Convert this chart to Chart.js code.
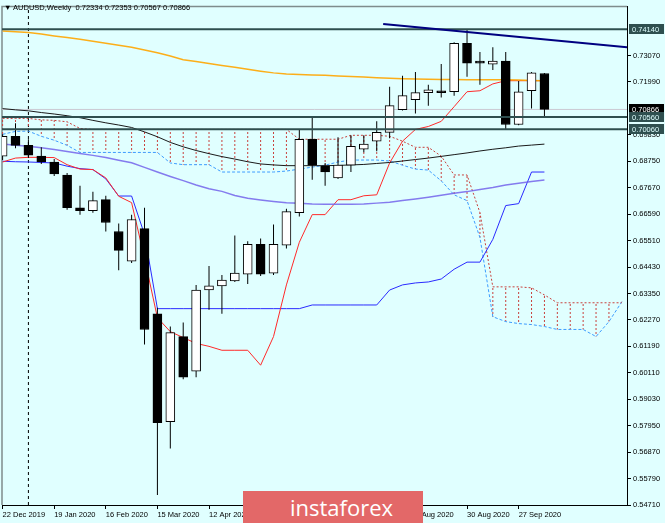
<!DOCTYPE html>
<html>
<head>
<meta charset="utf-8">
<title>AUDUSD Weekly</title>
<script src="https://cdn.jsdelivr.net/npm/chart.js@4.4.0/dist/chart.umd.min.js"></script>
<style>
  body { margin: 0; background: #e0ffff; }
  #area { position: relative; width: 665px; height: 523px; overflow: hidden; background: #e0ffff; }
  #grafico { position: absolute; left: 0; top: 0; }
  #cabecalho { position: absolute; left: 4px; top: 3px; font-family: "Liberation Sans", Arial, sans-serif; font-size: 7.5px; color: #000; white-space: pre; }
  #marca { position: absolute; left: 243px; top: 491px; width: 180px; height: 34px; background: #e36868; }
  #marca span { position: absolute; left: 47px; top: 1px; color: #fff; font-family: "Open Sans", sans-serif; font-size: 22px; }
</style>
</head>
<body>
<div id="area">
  <canvas id="grafico" width="665" height="523"></canvas>
  <div id="cabecalho"></div>
  <div id="marca"><span>instaforex</span></div>
</div>
<script>
// Dados

var simbolo = 'AUDUSD,Weekly';

var semanas = ['22 Dec 2019', '29 Dec 2019', '5 Jan 2020', '12 Jan 2020', '19 Jan 2020', '26 Jan 2020', '2 Feb 2020', '9 Feb 2020',
  '16 Feb 2020', '23 Feb 2020', '1 Mar 2020', '8 Mar 2020', '15 Mar 2020', '22 Mar 2020', '29 Mar 2020', '5 Apr 2020',
  '12 Apr 2020', '19 Apr 2020', '26 Apr 2020', '3 May 2020', '10 May 2020', '17 May 2020', '24 May 2020', '31 May 2020',
  '7 Jun 2020', '14 Jun 2020', '21 Jun 2020', '28 Jun 2020', '5 Jul 2020', '12 Jul 2020', '19 Jul 2020', '26 Jul 2020',
  '2 Aug 2020', '9 Aug 2020', '16 Aug 2020', '23 Aug 2020', '30 Aug 2020', '6 Sep 2020', '13 Sep 2020', '20 Sep 2020',
  '27 Sep 2020', '4 Oct 2020', '11 Oct 2020', '18 Oct 2020', '25 Oct 2020', '1 Nov 2020', '8 Nov 2020', '15 Nov 2020', '22 Nov 2020'];

// semanas que levam rótulo no eixo X
var semanasRotuladas = [0, 4, 8, 12, 16, 20, 24, 28, 32, 36, 40];

var abertura = [0.6896, 0.6977, 0.6940, 0.6896, 0.6872, 0.6819, 0.6685, 0.6673, 0.6718, 0.6588, 0.6467, 0.6600, 0.6252, 0.5811,
  0.6159, 0.6018, 0.6349, 0.6366, 0.6386, 0.6414, 0.6536, 0.6418, 0.6532, 0.6665, 0.6965, 0.6855, 0.6807, 0.6859, 0.6924,
  0.6957, 0.6993, 0.7086, 0.7127, 0.7155, 0.7163, 0.7159, 0.7357, 0.7284, 0.7272, 0.7284, 0.7025, 0.7163, 0.72334];

var maxima = [0.6985, 0.7030, 0.6965, 0.6932, 0.6884, 0.6827, 0.6775, 0.6750, 0.6734, 0.6621, 0.6657, 0.6685, 0.6277, 0.6200,
  0.6216, 0.6370, 0.6447, 0.6410, 0.6572, 0.6548, 0.6560, 0.6617, 0.6681, 0.7005, 0.7058, 0.6868, 0.6973, 0.6981, 0.6981,
  0.7038, 0.7179, 0.7224, 0.7240, 0.7187, 0.7272, 0.7361, 0.7414, 0.7321, 0.7341, 0.7321, 0.7203, 0.7240, 0.72353];

var minima = [0.6880, 0.6928, 0.6888, 0.6864, 0.6815, 0.6677, 0.6657, 0.6665, 0.6588, 0.6430, 0.6459, 0.6127, 0.5512, 0.5702,
  0.5985, 0.5993, 0.6268, 0.6252, 0.6382, 0.6374, 0.6406, 0.6410, 0.6519, 0.6649, 0.6799, 0.6775, 0.6803, 0.6831, 0.6912,
  0.6916, 0.6969, 0.7082, 0.7070, 0.7102, 0.7135, 0.7143, 0.7220, 0.7187, 0.7248, 0.7006, 0.7022, 0.7090, 0.70567];

var fechamento = [0.6977, 0.6940, 0.6900, 0.6872, 0.6823, 0.6685, 0.6673, 0.6714, 0.6625, 0.6511, 0.6637, 0.6188, 0.5807, 0.6175,
  0.5993, 0.6349, 0.6366, 0.6390, 0.6418, 0.6536, 0.6414, 0.6536, 0.6669, 0.6965, 0.6859, 0.6831, 0.6859, 0.6936, 0.6945,
  0.6993, 0.7102, 0.7143, 0.7155, 0.7167, 0.7155, 0.7357, 0.7276, 0.7276, 0.7284, 0.7025, 0.7159, 0.7236, 0.70866];

// Médias móveis
var mediaLaranja = [0.7407, 0.7404, 0.7401, 0.7395, 0.7387, 0.7380, 0.7373, 0.7365, 0.7357, 0.7349, 0.7341, 0.7329, 0.7318,
  0.7305, 0.7290, 0.7282, 0.7274, 0.7266, 0.7259, 0.7251, 0.7243, 0.7236, 0.7231, 0.7229, 0.7227, 0.7226, 0.7223, 0.7221,
  0.7219, 0.7216, 0.7214, 0.7212, 0.7211, 0.7210, 0.7209, 0.7209, 0.7208, 0.7208, 0.7208, 0.7208, 0.7207, 0.7205, 0.7204];

var mediaPreta = [0.7090, 0.7085, 0.7081, 0.7074, 0.7068, 0.7061, 0.7053, 0.7042, 0.7032, 0.7023, 0.7013, 0.6995, 0.6975,
  0.6952, 0.6934, 0.6919, 0.6906, 0.6894, 0.6884, 0.6873, 0.6864, 0.6860, 0.6857, 0.6857, 0.6857, 0.6857, 0.6858, 0.6860,
  0.6862, 0.6866, 0.6870, 0.6876, 0.6882, 0.6888, 0.6895, 0.6902, 0.6909, 0.6917, 0.6924, 0.6930, 0.6937, 0.6941, 0.6945];

var mediaRoxa = [0.6945, 0.6940, 0.6936, 0.6930, 0.6923, 0.6915, 0.6907, 0.6899, 0.6890, 0.6879, 0.6869, 0.6850, 0.6831,
  0.6813, 0.6796, 0.6778, 0.6763, 0.6752, 0.6735, 0.6724, 0.6717, 0.6711, 0.6706, 0.6703, 0.6700, 0.6699, 0.6699, 0.6699,
  0.6700, 0.6704, 0.6708, 0.6715, 0.6721, 0.6728, 0.6736, 0.6744, 0.6751, 0.6760, 0.6768, 0.6778, 0.6785, 0.6792, 0.6798];

// Ichimoku
var tenkan = [0.6872, 0.6888, 0.6891, 0.6891, 0.6890, 0.6861, 0.6843, 0.6841, 0.6807, 0.6732, 0.6706, 0.6479, 0.6236, 0.6179,
  0.6155, 0.6131, 0.6119, 0.6103, 0.6103, 0.6103, 0.6042, 0.6159, 0.6370, 0.6544, 0.6657, 0.6657, 0.6718, 0.6718, 0.6734,
  0.6738, 0.6868, 0.6957, 0.7005, 0.7017, 0.7038, 0.7098, 0.7159, 0.7163, 0.7191, 0.7204, 0.7204, 0.7204, 0.7204];

var kijun = [0.6875, 0.6873, 0.6872, 0.6870, 0.6868, 0.6855, 0.6845, 0.6841, 0.6803, 0.6733, 0.6733, 0.6576, 0.6273, 0.6273,
  0.6273, 0.6273, 0.6273, 0.6273, 0.6273, 0.6273, 0.6273, 0.6273, 0.6273, 0.6273, 0.6288, 0.6288, 0.6288, 0.6288, 0.6288,
  0.6288, 0.6349, 0.6370, 0.6378, 0.6382, 0.6394, 0.6434, 0.6463, 0.6463, 0.6556, 0.6694, 0.6702, 0.6831, 0.6831];

var senkouA = [0.6985, 0.6997, 0.6998, 0.6977, 0.6961, 0.6940, 0.6911, 0.6911, 0.6911, 0.6911, 0.6911, 0.6911, 0.6911, 0.6868,
  0.6861, 0.6861, 0.6861, 0.6831, 0.6831, 0.6831, 0.6831, 0.6831, 0.6835, 0.6843, 0.6851, 0.6859, 0.6872, 0.6880, 0.6880,
  0.6880, 0.6876, 0.6859, 0.6843, 0.6839, 0.6795, 0.6738, 0.6714, 0.6564, 0.6240, 0.6220, 0.6212, 0.6208, 0.6200, 0.6188,
  0.6188, 0.6188, 0.6159, 0.6220, 0.6301];

var senkouB = [0.7050, 0.7050, 0.7050, 0.7044, 0.7042, 0.7036, 0.7009, 0.7005, 0.7005, 0.7005, 0.7005, 0.7005, 0.7005, 0.7005,
  0.7005, 0.7005, 0.7005, 0.7005, 0.7005, 0.7005, 0.7005, 0.7005, 0.7005, 0.6965, 0.6965, 0.6965, 0.6965, 0.6981, 0.6981,
  0.6981, 0.6977, 0.6957, 0.6932, 0.6932, 0.6896, 0.6819, 0.6819, 0.6665, 0.6362, 0.6362, 0.6362, 0.6358, 0.6329, 0.6297,
  0.6297, 0.6297, 0.6297, 0.6297, 0.6297];

// Níveis horizontais, preço atual e linha de tendência
var niveis = [0.74140, 0.70560, 0.70060];
var precoAtual = 0.70866;
var tendencia = [{ x: 29.5, y: 0.7436 }, { x: 48.4, y: 0.7341 }];

// Eixos
var marcasPreco = [0.54710, 0.55790, 0.56870, 0.57950, 0.59030, 0.60110, 0.61190, 0.62270, 0.63350, 0.64430, 0.65510,
  0.66590, 0.67670, 0.68750, 0.69830, 0.71990, 0.73070];
var precoMin = 0.54710;
var precoMax = 0.75071;
var inicioX = -0.0465;
var fimX = 48.4;
var separadorAno = 2;

// Cabeçalho

var ultimo = fechamento.length - 1;
document.getElementById('cabecalho').textContent = '\u25BC ' + simbolo + '  ' +
  [abertura[ultimo], maxima[ultimo], minima[ultimo], fechamento[ultimo]].map(function (v) { return v.toFixed(5); }).join(' ');

// Gráfico

var fonte = { family: '"Liberation Sans", Arial, sans-serif', size: 7.5 };

function pontos(valores) {
  return valores.map(function (v, i) { return { x: i, y: v }; });
}

function linha(valores, cor, largura, tracejado, ordem) {
  return {
    type: 'line',
    data: valores,
    borderColor: cor,
    borderWidth: largura,
    borderDash: tracejado || [],
    pointRadius: 0,
    tension: 0,
    fill: false,
    order: ordem
  };
}

function padraoPontilhado(cor) {
  var c = document.createElement('canvas');
  c.width = 1;
  c.height = 4;
  var g = c.getContext('2d');
  g.fillStyle = cor;
  g.fillRect(0, 0, 1, 2);
  return g.createPattern(c, 'repeat');
}

var corpos = {
  type: 'bar',
  data: abertura.map(function (a, i) { return { x: i, y: [a, fechamento[i]] }; }),
  backgroundColor: abertura.map(function (a, i) { return fechamento[i] >= a ? '#ffffff' : '#000000'; }),
  borderColor: '#000000',
  borderWidth: 1,
  borderSkipped: false,
  grouped: false,
  barThickness: 9,
  maxBarThickness: 9,
  order: 0
};

var pavios = {
  type: 'bar',
  data: minima.map(function (m, i) { return { x: i, y: [m, maxima[i]] }; }),
  backgroundColor: '#000000',
  borderWidth: 0,
  inflateAmount: 0,
  grouped: false,
  barThickness: 1,
  maxBarThickness: 1,
  order: 1
};

// hachura da nuvem: um traço pontilhado por semana entre as duas senkou
var nuvem = {
  type: 'bar',
  data: senkouA.map(function (a, i) { return { x: i, y: [a, senkouB[i]] }; }),
  backgroundColor: padraoPontilhado('#c8403c'),
  borderWidth: 0,
  inflateAmount: 0,
  grouped: false,
  barThickness: 1,
  maxBarThickness: 1,
  order: 9
};

var datasets = [
  corpos,
  pavios,
  nuvem,
  linha(pontos(mediaLaranja), 'rgba(255, 165, 0, 0.9)', 1.5, null, 3),
  linha(pontos(mediaPreta), '#1a1a1a', 1, null, 3),
  linha(pontos(mediaRoxa), 'rgba(115, 100, 235, 0.85)', 1.5, null, 3),
  linha(pontos(tenkan), '#ff2a2a', 1, null, 4),
  linha(pontos(kijun), '#2a2aff', 1, null, 4),
  linha(pontos(senkouB), '#c8403c', 1, [2, 2], 5),
  linha(pontos(senkouA), '#3c9cff', 1, [3, 2], 5),
  linha([{ x: separadorAno, y: precoMin }, { x: separadorAno, y: precoMax }], '#000000', 1, [3, 3], 10),
  linha([{ x: inicioX, y: precoAtual }, { x: fimX, y: precoAtual }], 'rgba(200, 195, 205, 0.9)', 1, null, 8),
  linha(tendencia, '#000080', 2, null, -2)
];

niveis.forEach(function (n) {
  datasets.push(linha([{ x: inicioX, y: n }, { x: fimX, y: n }], '#2f4f4f', 2, null, -1));
});

var moldura = {
  id: 'moldura',
  beforeDatasetsDraw: function (chart) {
    var ctx = chart.ctx, a = chart.chartArea;
    ctx.save();
    ctx.strokeStyle = '#7f8c8c';
    ctx.lineWidth = 1.5;
    ctx.beginPath();
    ctx.moveTo(a.left, a.bottom);
    ctx.lineTo(a.left, a.top);
    ctx.lineTo(a.right, a.top);
    ctx.stroke();
    ctx.restore();
  }
};

var rotulosPreco = {
  id: 'rotulosPreco',
  afterDraw: function (chart) {
    var ctx = chart.ctx, y = chart.scales.y, dir = chart.chartArea.right;
    ctx.save();
    ctx.font = '7.5px "Liberation Sans", Arial, sans-serif';
    ctx.textBaseline = 'middle';

    function caixa(valor, fundo, texto) {
      var py = Math.round(y.getPixelForValue(valor));
      ctx.fillStyle = fundo;
      ctx.fillRect(dir + 2, py - 5, 35, 10);
      ctx.fillStyle = texto;
      ctx.fillText(valor.toFixed(5), dir + 5, py + 0.5);
    }

    caixa(precoAtual, '#000000', '#ffffff');
    niveis.forEach(function (n) { caixa(n, '#2f4f4f', '#e0ffff'); });
    ctx.restore();
  }
};

var ctxGrafico = document.getElementById('grafico').getContext('2d');

var meuGrafico = new Chart(ctxGrafico, {
  type: 'bar',
  data: { datasets: datasets },
  options: {
    responsive: false,
    animation: false,
    devicePixelRatio: 1,
    layout: { padding: { left: 2, top: 2, right: 0, bottom: 0 } },
    plugins: {
      legend: { display: false },
      tooltip: { enabled: false }
    },
    scales: {
      x: {
        type: 'linear',
        min: inicioX,
        max: fimX,
        offset: false,
        afterBuildTicks: function (s) {
          s.ticks = semanasRotuladas.map(function (i) { return { value: i }; });
        },
        afterFit: function (s) { s.height = 18; },
        ticks: {
          autoSkip: false,
          maxRotation: 0,
          align: 'start',
          padding: 1,
          color: '#000000',
          font: fonte,
          callback: function (v) { return semanas[v]; }
        },
        grid: { offset: false, drawOnChartArea: false, drawTicks: true, tickLength: 4, color: '#000000' },
        border: { color: '#000000', width: 1 }
      },
      y: {
        position: 'right',
        min: precoMin,
        max: precoMax,
        afterBuildTicks: function (s) {
          s.ticks = marcasPreco.map(function (v) { return { value: v }; });
        },
        afterFit: function (s) { s.width = 38; },
        ticks: {
          padding: 2,
          color: '#000000',
          font: fonte,
          callback: function (v) { return v.toFixed(5); }
        },
        grid: { drawOnChartArea: false, drawTicks: true, tickLength: 4, color: '#000000' },
        border: { color: '#000000', width: 1 }
      }
    }
  },
  plugins: [moldura, rotulosPreco]
});
</script>
</body>
</html>
